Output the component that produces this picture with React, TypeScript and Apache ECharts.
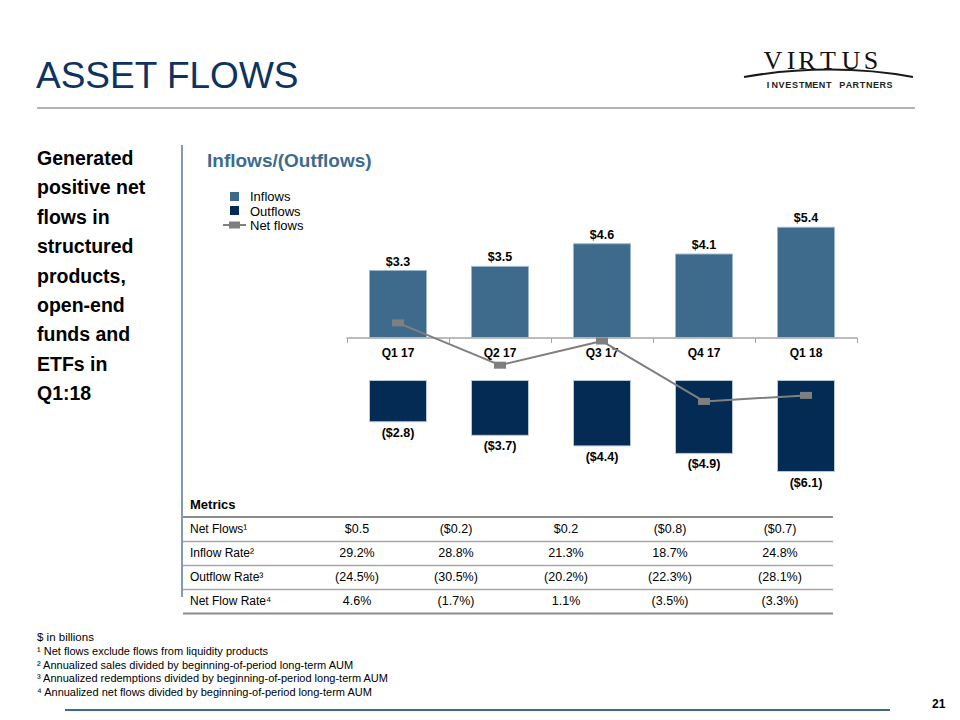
import React, { useEffect, useRef } from "react";
import * as echarts from "echarts";

const categories = ["Q1 17", "Q2 17", "Q3 17", "Q4 17", "Q1 18"];
const inflows = [3.3, 3.5, 4.6, 4.1, 5.4];
const outflows = [-2.8, -3.7, -4.4, -4.9, -6.1];
const netFlows = [0.5, -0.2, 0.2, -0.8, -0.7];

const tableRowLabels = ["Net Flows¹", "Inflow Rate²", "Outflow Rate³", "Net Flow Rate⁴"];
const tableNetFlows = ["$0.5", "($0.2)", "$0.2", "($0.8)", "($0.7)"];
const tableInflowRate = ["29.2%", "28.8%", "21.3%", "18.7%", "24.8%"];
const tableOutflowRate = ["(24.5%)", "(30.5%)", "(20.2%)", "(22.3%)", "(28.1%)"];
const tableNetFlowRate = ["4.6%", "(1.7%)", "1.1%", "(3.5%)", "(3.3%)"];

const sideText = [
  "Generated",
  "positive net",
  "flows in",
  "structured",
  "products,",
  "open-end",
  "funds and",
  "ETFs in",
  "Q1:18",
];

const footnotes = [
  "$ in billions",
  "¹ Net flows exclude flows from liquidity products",
  "² Annualized sales divided by beginning-of-period long-term AUM",
  "³ Annualized redemptions divided by beginning-of-period long-term AUM",
  "⁴ Annualized net flows divided by beginning-of-period long-term AUM",
];

const FONT = "'Liberation Sans', Arial, Helvetica, sans-serif";
const SERIF = "'Liberation Serif', 'DejaVu Serif', serif";
const NAVY = "#0d3362";
const INFLOW = "#3e6b8c";
const OUTFLOW = "#042b53";
const GRAY = "#7f7f7f";

const fmtIn = (v: number) => "$" + v.toFixed(1);
const fmtOut = (v: number) => "($" + Math.abs(v).toFixed(1) + ")";

function buildGraphics() {
  const g: any[] = [];
  const txt = (text: string, x: number, y: number, size: number, opts: any = {}) =>
    g.push({
      type: "text",
      x,
      y,
      silent: true,
      style: {
        text,
        fontFamily: opts.family || FONT,
        fontSize: size,
        fontWeight: opts.weight || "normal",
        fill: opts.fill || "#000",
        textAlign: opts.align || "left",
        textVerticalAlign: "middle",
      },
    });
  const line = (x1: number, y1: number, x2: number, y2: number, color: string, w: number) =>
    g.push({
      type: "line",
      silent: true,
      shape: { x1, y1, x2, y2 },
      style: { stroke: color, lineWidth: w },
    });

  // Title
  txt("ASSET FLOWS", 36, 75, 37, { fill: NAVY });
  line(37, 108, 915, 108, "#b3b3b3", 2);

  // Logo
  const letters = ["V", "I", "R", "T", "U", "S"];
  const lx = [773, 791, 807, 828, 851, 871];
  letters.forEach((l, i) =>
    txt(l, lx[i], 60, 26, { family: SERIF, align: "center", fill: "#111" })
  );
  g.push({
    type: "bezierCurve",
    silent: true,
    shape: { x1: 744, y1: 77, x2: 913, y2: 77, cpx1: 800, cpy1: 67, cpx2: 860, cpy2: 67 },
    style: { stroke: "#1a1a1a", lineWidth: 2, fill: null },
  });
  const sub = "INVESTMENT PARTNERS".split("");
  sub.forEach((c, i) => {
    if (c !== " ") txt(c, 768 + i * 6.75, 85, 9, { weight: "bold", align: "center", fill: "#222" });
  });

  // Side text
  sideText.forEach((t, i) => txt(t, 37, 158 + i * 29.4, 19.5, { weight: "bold" }));
  line(182, 145, 182, 597, "#5a7a9a", 1.5);

  // Chart title
  txt("Inflows/(Outflows)", 207, 160, 19, { weight: "bold", fill: INFLOW });

  // Legend
  g.push({ type: "rect", silent: true, shape: { x: 230, y: 192, width: 9, height: 9 }, style: { fill: INFLOW } });
  g.push({ type: "rect", silent: true, shape: { x: 230, y: 206, width: 9, height: 9 }, style: { fill: OUTFLOW } });
  line(223, 225, 246, 225, GRAY, 2);
  g.push({ type: "rect", silent: true, shape: { x: 229, y: 221.5, width: 11, height: 7 }, style: { fill: GRAY } });
  txt("Inflows", 250, 196, 13);
  txt("Outflows", 250, 211, 13);
  txt("Net flows", 250, 225, 13);

  // Table
  const colX = [357, 456, 566, 670, 780];
  txt("Metrics", 190, 504, 13, { weight: "bold" });
  line(183, 517, 833, 517, "#8c8c8c", 2);
  const rows = [tableNetFlows, tableInflowRate, tableOutflowRate, tableNetFlowRate];
  const rowY = [529, 553, 577, 601];
  rows.forEach((r, ri) => {
    txt(tableRowLabels[ri], 190, rowY[ri], 12);
    r.forEach((v, ci) => txt(v, colX[ci], rowY[ri], 12.5, { align: "center" }));
    line(183, rowY[ri] + 12.5, 833, rowY[ri] + 12.5, ri === 3 ? "#8c8c8c" : "#a6a6a6", ri === 3 ? 2 : 1.5);
  });

  // Footnotes
  footnotes.forEach((t, i) => txt(t, 37, 637 + i * 13.8, i === 0 ? 11.5 : 11));
  line(65, 710, 890, 710, INFLOW, 2);
  txt("21", 932, 704, 12, { weight: "bold" });
  return g;
}

export default function App() {
  const ref = useRef<HTMLDivElement>(null);
  useEffect(() => {
    if (!ref.current) return;
    const chart = echarts.init(ref.current, null, { renderer: "svg" });
    const left = 347;
    const width = 510;
    chart.setOption({
      animation: false,
      backgroundColor: "#ffffff",
      textStyle: { fontFamily: FONT },
      grid: [
        { left, width, top: 214.4, height: 123.6 },
        { left, width, top: 380, height: 105.6 },
        { left, width, top: 292.7, height: 120.8 },
      ],
      xAxis: [
        {
          type: "category",
          gridIndex: 0,
          data: categories,
          axisLine: { lineStyle: { color: "#a6a6a6", width: 1.5 } },
          axisTick: { show: true, length: 5, lineStyle: { color: "#a6a6a6" } },
          axisLabel: { color: "#000", fontWeight: "bold", fontSize: 12, margin: 9, fontFamily: FONT },
        },
        { type: "category", gridIndex: 1, data: categories, show: false },
        { type: "category", gridIndex: 2, data: categories, show: false },
      ],
      yAxis: [
        { type: "value", gridIndex: 0, min: 0, max: 6, show: false },
        { type: "value", gridIndex: 1, min: -7, max: 0, show: false },
        { type: "value", gridIndex: 2, min: -1, max: 1, show: false },
      ],
      series: [
        {
          name: "Inflows",
          type: "bar",
          xAxisIndex: 0,
          yAxisIndex: 0,
          data: inflows,
          barWidth: 58,
          itemStyle: { color: INFLOW, borderColor: "#9db7cb", borderWidth: 1 },
          label: {
            show: true,
            position: "top",
            distance: 2,
            formatter: (p: any) => fmtIn(p.value),
            color: "#000",
            fontWeight: "bold",
            fontSize: 12.5,
            fontFamily: FONT,
          },
        },
        {
          name: "Outflows",
          type: "bar",
          xAxisIndex: 1,
          yAxisIndex: 1,
          data: outflows,
          barWidth: 58,
          itemStyle: { color: OUTFLOW, borderColor: "#b9c8d6", borderWidth: 1 },
          label: {
            show: true,
            position: "bottom",
            distance: 4,
            formatter: (p: any) => fmtOut(p.value),
            color: "#000",
            fontWeight: "bold",
            fontSize: 12.5,
            fontFamily: FONT,
          },
        },
        {
          name: "Net flows",
          type: "line",
          xAxisIndex: 2,
          yAxisIndex: 2,
          data: netFlows,
          symbol: "rect",
          symbolSize: [12, 7],
          lineStyle: { color: GRAY, width: 2 },
          itemStyle: { color: GRAY },
          z: 5,
        },
      ],
      graphic: buildGraphics(),
    });
    return () => chart.dispose();
  }, []);
  return (
    <div
      ref={ref}
      style={{ position: "fixed", left: 0, top: 0, width: 960, height: 720, background: "#fff" }}
    />
  );
}
